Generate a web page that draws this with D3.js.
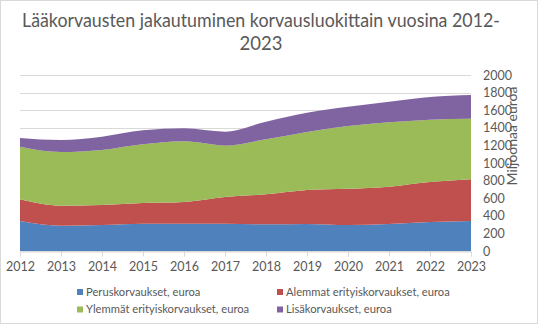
<!DOCTYPE html>
<html><head><meta charset="utf-8">
<script src="https://cdn.jsdelivr.net/npm/d3@7"></script>
<style>body{margin:0;background:#fff}svg{display:block;font-family:Lato,"Open Sans",sans-serif}</style>
</head><body><svg id="c" width="538" height="324"></svg>
<script>
const years = [2012,2013,2014,2015,2016,2017,2018,2019,2020,2021,2022,2023];
const perus = [341,288,295,311,311,309,303,307,295,307,330,341];
const alemmat = [246,227,228,234,246,305,341,386,413,424,454,473];
const ylemmat = [598,610,625,667,689,585,625,659,712,731,708,688];
const lisa = [99,136,151,159,148,157,201,220,220,235,258,271];
const seriesNames = ["Peruskorvaukset, euroa","Alemmat erityiskorvaukset, euroa","Ylemmät erityiskorvaukset, euroa","Lisäkorvaukset, euroa"];
const colors = ["#4f81bd","#c0504d","#9bbb59","#8064a2"];
const yTicks = [0,200,400,600,800,1000,1200,1400,1600,1800,2000];
const titleLines = ["Lääkorvausten jakautuminen korvausluokittain vuosina 2012-","2023"];
const yTitle = "Miljoonaa euroa";

const rows = years.map((y,i)=>({year:y,s0:perus[i],s1:alemmat[i],s2:ylemmat[i],s3:lisa[i]}));
const keys = ["s0","s1","s2","s3"];
const svg = d3.select("#c");
const txt = "#595959", grid = "#d9d9d9";
svg.append("rect").attr("x",0.5).attr("y",0.5).attr("width",537).attr("height",323).attr("fill","#fff").attr("stroke","#d9d9d9");

const x = d3.scaleLinear().domain([2012,2023]).range([20,471]);
const y = d3.scaleLinear().domain([0,2000]).range([251,75]);

// title
svg.append("text").attr("x",261).attr("y",27).attr("text-anchor","middle").attr("fill",txt)
  .style("font-size","18.5px").attr("textLength",478).attr("lengthAdjust","spacingAndGlyphs").text(titleLines[0]);
svg.append("text").attr("x",261).attr("y",49.5).attr("text-anchor","middle").attr("fill",txt)
  .style("font-size","18.5px").text(titleLines[1]);

// gridlines
svg.append("g").selectAll("line").data(yTicks).join("line")
  .attr("x1",20).attr("x2",471).attr("y1",d=>Math.round(y(d))+0.5).attr("y2",d=>Math.round(y(d))+0.5)
  .attr("stroke",grid).attr("stroke-width",1);

// areas
const stack = d3.stack().keys(keys)(rows);
const area = d3.area().curve(d3.curveMonotoneX)
  .x(d=>x(d.data.year)).y0(d=>y(d[0])).y1(d=>y(d[1]));
svg.append("g").selectAll("path").data(stack).join("path")
  .attr("d",area).attr("fill",(d,i)=>colors[i]);

// x axis
const xAxis = d3.axisBottom(x).tickValues(years).tickFormat(d3.format("d")).tickSizeOuter(0).tickSize(5).tickPadding(6);
const gx = svg.append("g").attr("transform","translate(0,251.5)").call(xAxis);
gx.select(".domain").attr("stroke",grid);
gx.selectAll(".tick line").attr("stroke",grid);
gx.selectAll("text").attr("fill",txt).style("font-size","12.5px").style("font-family","Lato,'Open Sans',sans-serif");

// y axis right
const yAxis = d3.axisRight(y).tickValues(yTicks).tickFormat(d3.format("d")).tickSize(0).tickPadding(12);
const gy = svg.append("g").attr("transform","translate(471,0)").call(yAxis);
gy.select(".domain").remove();
gy.selectAll("text").attr("fill",txt).style("font-size","12.5px").style("font-family","Lato,'Open Sans',sans-serif");

svg.append("text").attr("transform","translate(517,136) rotate(-90)").attr("text-anchor","middle")
  .attr("fill",txt).style("font-size","14px").text(yTitle);

// legend
const legPos = [[77,292],[277,292],[77,309.5],[277,309.5]];
const lg = svg.append("g").selectAll("g").data(seriesNames).join("g")
  .attr("transform",(d,i)=>`translate(${legPos[i][0]},${legPos[i][1]})`);
lg.append("rect").attr("x",0).attr("y",-3).attr("width",6).attr("height",6).attr("fill",(d,i)=>colors[i]);
lg.append("text").attr("x",9).attr("y",0).attr("dy","0.35em").attr("fill",txt).style("font-size","11.2px").text(d=>d);
</script></body></html>
